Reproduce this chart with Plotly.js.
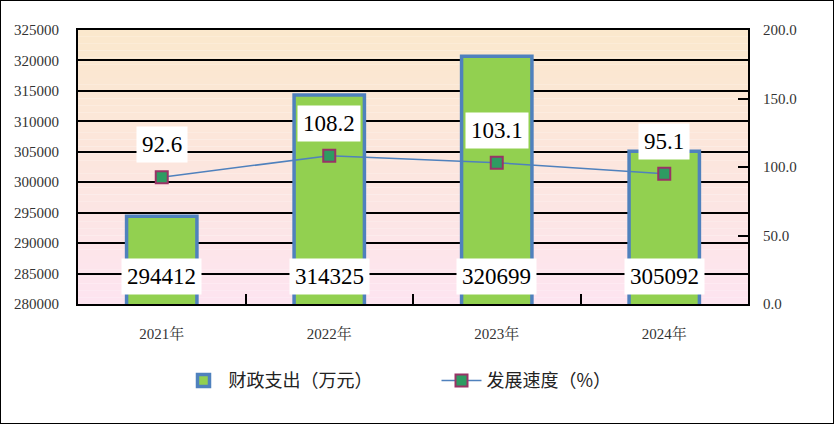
<!DOCTYPE html>
<html><head><meta charset="utf-8">
<script src="https://cdn.plot.ly/plotly-3.0.1.min.js"></script>
<style>html,body{margin:0;padding:0;background:#fff}#c{width:834px;height:424px;box-sizing:border-box;border:1px solid #000}</style>
</head><body><div id="c"></div>
<script>
const categories = ['2021年','2022年','2023年','2024年'];
const spending = [294412, 314325, 320699, 305092];
const growth = [92.6, 108.2, 103.1, 95.1];
const spendingName = '财政支出（万元）';
const growthName = '发展速度（%）';

const serif = '"Liberation Serif", "Noto Serif CJK SC", "Noto Sans CJK SC", serif';
const cjk = '"Noto Sans CJK SC", sans-serif';

// gradient background stripes
const shapes = [];
const N = 40;
const c1 = [251,232,205], c2 = [253,228,240];
for (let i = 0; i < N; i++) {
  const t = i / (N - 1);
  const c = c1.map((v, k) => Math.round(v + (c2[k] - v) * t));
  shapes.push({type:'rect', xref:'paper', yref:'paper', x0:0, x1:1,
    y1: 1 - i / N, y0: 1 - (i + 1) / N, fillcolor:`rgb(${c.join(',')})`,
    line:{width:0}, layer:'below'});
}

const annotations = [];
categories.forEach((c, i) => {
  annotations.push({x:c, y:280000, xref:'x', yref:'y', yanchor:'bottom', yshift:9,
    text:String(spending[i]), showarrow:false, bgcolor:'#fff', borderpad:5,
    font:{family:serif, size:23, color:'#000'}});
  annotations.push({x:c, y:growth[i], xref:'x', yref:'y2', yanchor:'bottom', yshift:14,
    text:growth[i].toFixed(1), showarrow:false, bgcolor:'#fff', borderpad:5,
    font:{family:serif, size:23, color:'#000'}});
});

const data = [
  {type:'bar', x:categories, y:spending, name:spendingName, width:0.42,
   marker:{color:'#92D050', line:{color:'#4F81BD', width:3.5}}, hoverinfo:'none'},
  {type:'scatter', mode:'lines+markers', x:categories, y:growth, yaxis:'y2', name:growthName,
   line:{color:'#4F81BD', width:1.5},
   marker:{symbol:'square', size:12, color:'#2E9B62', line:{color:'#993366', width:2}}, hoverinfo:'none'}
];

const tf = {family:serif, size:15, color:'#333'};
const layout = {
  width:832, height:422,
  margin:{l:77, r:85, t:29, b:119},
  paper_bgcolor:'#fff', plot_bgcolor:'rgba(0,0,0,0)',
  shapes, annotations,
  showlegend:true,
  legend:{orientation:'h', x:0.15, xanchor:'left', y:-0.28, yanchor:'middle',
    font:{family:cjk, size:18, color:'#222'}, bgcolor:'rgba(0,0,0,0)', itemwidth:40,
    entrywidth:203},
  xaxis:{type:'category', showline:true, linecolor:'#000', linewidth:2, mirror:true,
    ticks:'inside', tickson:'boundaries', ticklen:10, tickcolor:'#000', tickwidth:2,
    ticklabelstandoff:15, tickfont:tf, showgrid:false},
  yaxis:{range:[280000,325000], dtick:5000, tick0:280000, tickformat:'d', showgrid:true, gridcolor:'#000', gridwidth:2,
    showline:true, linecolor:'#000', linewidth:2, mirror:true, ticks:'', ticklabelstandoff:14,
    tickfont:tf, zeroline:false},
  yaxis2:{range:[0,200], dtick:50, tick0:0, overlaying:'y', side:'right', showgrid:false,
    ticks:'inside', ticklen:10, tickcolor:'#000', tickwidth:2, tickformat:'.1f',
    ticklabelstandoff:14, tickfont:tf, zeroline:false, showline:false},
  bargap:0.58
};

Plotly.newPlot('c', data, layout, {displayModeBar:false, staticPlot:true});
</script></body></html>
